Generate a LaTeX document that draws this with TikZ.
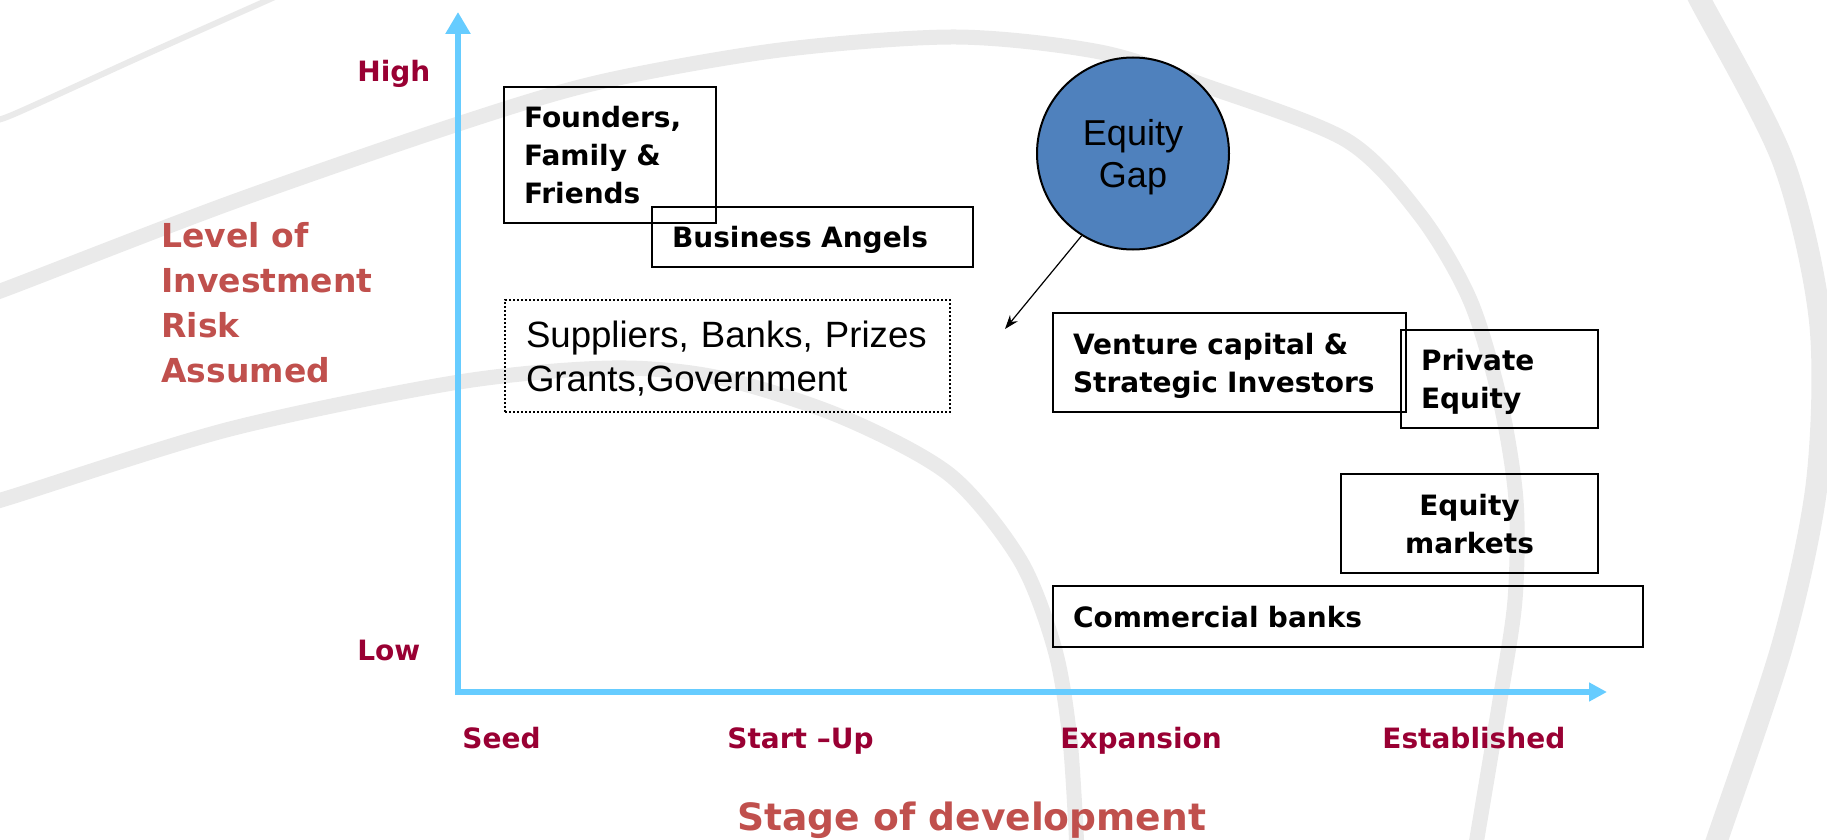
\documentclass[tikz,border=0pt]{standalone}
\usepackage{fontspec}
\setmainfont{DejaVu Sans}
\newfontfamily\arialfont{Liberation Sans}
\usetikzlibrary{arrows.meta}
\definecolor{axisblue}{RGB}{102,204,255}
\definecolor{stagered}{RGB}{153,0,51}
\definecolor{ttlred}{RGB}{192,80,77}
\definecolor{gapblue}{RGB}{79,129,189}
\definecolor{swoosh}{RGB}{234,234,234}
\tikzset{
  fund/.style={draw=black, line width=1pt, inner xsep=10pt, inner ysep=0pt, align=left,
    font=\bfseries\fontsize{14pt}{19pt}\selectfont},
  stage/.style={text=stagered, inner sep=0pt, anchor=base west,
    font=\bfseries\fontsize{14pt}{17pt}\selectfont},
  ttl/.style={text=ttlred, inner sep=0pt, align=left},
}
\begin{document}
\begin{tikzpicture}[x=0.5pt,y=-0.5pt]
\useasboundingbox (0,0) rectangle (1827,840);
% background swooshes
\begin{scope}
\clip (0,0) rectangle (1827,840);
\draw[swoosh, line width=3pt] plot[smooth] coordinates {(-10,120) (12,115) (140,57) (268,0) (290,-10)};
\draw[swoosh, line width=7.5pt] plot[smooth] coordinates {(-10,294) (11,287) (230,203) (455,125) (600,82) (780,50) (956,37) (1100,52) (1203,85) (1346,140) (1420,215) (1470,300) (1500,400) (1516,500) (1515,600) (1500,700) (1475,850)};
\draw[swoosh, line width=7.5pt] plot[smooth] coordinates {(-10,503) (11,497) (230,429) (459,382) (612,368) (720,378) (842,417) (950,475) (1020,560) (1055,650) (1070,740) (1077,850)};
\draw[swoosh, line width=11pt] plot[smooth] coordinates {(1690,-20) (1700,0) (1783,161) (1820,321) (1817,482) (1783,643) (1717,840) (1710,860)};
\end{scope}
% axes
\coordinate (origin) at (458,692);
\coordinate (ytop) at (458,12);
\coordinate (xend) at (1607,692);
\draw[axisblue, line width=3pt, -{Triangle[length=11pt,width=12pt]}] ([yshift=-1.5pt]origin) -- (ytop);
\draw[axisblue, line width=3pt, -{Triangle[length=9pt,width=9pt]}] ([xshift=-1.5pt]origin) -- (xend);
\node[stage] (high) at (357,82) {High};
\node[stage] (low) at (357,660) {Low};
\node[stage] (seed) at (462,748) {Seed};
\node[stage] (startup) at (727,748) {Start –Up};
\node[stage] (expansion) at (1060,748) {Expansion};
\node[stage] (established) at (1382,748) {Established};
\node[ttl, anchor=north west, font=\bfseries\fontsize{16.5pt}{22.5pt}\selectfont] (riskttl) at (161,222) {Level of\\Investment\\Risk\\Assumed};
\node[ttl, anchor=base west, font=\bfseries\fontsize{18.8pt}{22pt}\selectfont] (stagettl) at (737,830) {Stage of development};
% sources of finance
\node[fund, text width=86pt, minimum height=68pt, text depth=38pt] (founders) at (610,155) {Founders,\\Family \&\\Friends};
\node[fund, text width=140.5pt, minimum height=30pt, text depth=0pt] (angels) at (812.5,237) {Business Angels};
\node[fund, densely dotted, line width=0.6pt, inner xsep=10.5pt, text width=201.5pt, minimum height=56pt, text depth=22pt,
  font=\arialfont\fontsize{18.3pt}{22pt}\selectfont] (suppliers) at (727.5,356) {Suppliers, Banks, Prizes\\Grants,Government};
\node[fund, text width=156.5pt, minimum height=49.5pt, text depth=19pt] (venture) at (1229.5,362.5) {Venture capital \&\\Strategic Investors};
\node[fund, text width=78.5pt, minimum height=49pt, text depth=19pt] (private) at (1499.5,379) {Private\\Equity};
\node[fund, text width=108.5pt, minimum height=49.5pt, text depth=19pt, align=center] (eqmarkets) at (1469.5,523.5) {Equity\\markets};
\node[fund, text width=275pt, minimum height=30.5pt, text depth=0pt] (banks) at (1348,616.5) {Commercial banks};
% equity gap
\node[circle, draw=black, line width=1pt, fill=gapblue, minimum size=96pt, inner sep=0pt, text depth=0pt, align=center,
  font=\arialfont\fontsize{18pt}{21pt}\selectfont] (eqgap) at (1133,153.5) {Equity\\Gap};
\coordinate (gaptip) at (1005,329);
\draw[line width=0.6pt, -{Stealth[length=7pt,width=5pt]}] (eqgap.238) -- (gaptip);
\end{tikzpicture}
\end{document}
